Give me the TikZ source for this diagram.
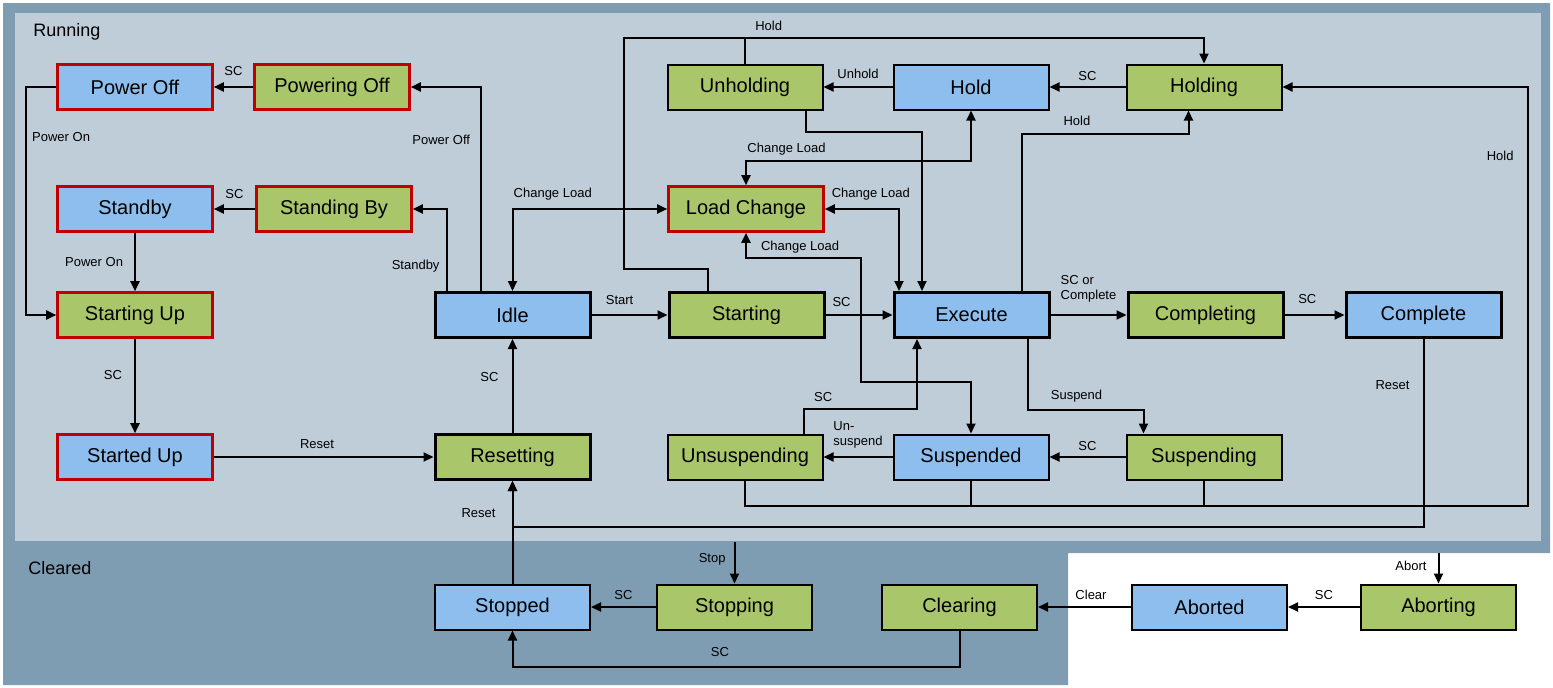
\documentclass[tikz,border=0pt]{standalone}
\usepackage{fontspec}
\setmainfont{Liberation Sans}
\usepackage{xcolor}
\usepackage{tikz}
\usetikzlibrary{arrows.meta, positioning, calc}
\definecolor{lightbg}{RGB}{191,205,217}
\definecolor{darkbg}{RGB}{127,157,178}
\definecolor{stillblue}{RGB}{141,190,238}
\definecolor{actgreen}{RGB}{169,198,106}
\definecolor{darkred}{RGB}{192,0,0}
\tikzset{
    state/.style={
        rectangle,
        draw=black,
        line width=2pt,
        fill=stillblue,
        minimum width=155pt,
        minimum height=45pt,
        inner sep=0pt,
        font=\fontsize{20}{24}\selectfont,
    },
    acting/.style={
        state,
        fill=actgreen,
    },
    extra/.style={
        draw=darkred,
        line width=2.6pt,
    },
    heavy/.style={
        line width=3pt,
    },
    lbl/.style={
        inner sep=1pt,
        font=\fontsize{13}{15}\selectfont,
    },
}

\begin{document}
\begin{tikzpicture}[x=1pt,y=-1pt,node distance=76pt,>={Triangle[length=10pt,width=9pt]},line width=2pt]
      \useasboundingbox (0,0) rectangle (1553,688);

      % regions
      \coordinate (OuterNW) at (3,3);
      \coordinate (OuterSE) at (1550,553);
      \coordinate (ClearedSE) at (1068,685);
      \fill[darkbg] (OuterNW) -| (OuterSE) -| (ClearedSE) -| (OuterNW) -- cycle;
      \node [fill=lightbg, minimum width=1526pt, minimum height=528pt, inner sep=0pt, anchor=north west] (Running) at (14,12) {};
      \node [anchor=west, font=\fontsize{18}{22}\selectfont] (RunningTxt) at (29,32) {Running};
      \node [anchor=west, font=\fontsize{18}{22}\selectfont] (ClearedTxt) at (24,568) {Cleared};

      % states
      \node [state, extra] (PowerOff) at (135,87) {Power Off};
      \node [acting, extra] (PoweringOff) at (332,87) {Powering Off};
      \node [acting] (Unholding) at (745,87) {Unholding};
      \node [state] (Hold) at (971,87) {Hold};
      \node [acting] (Holding) [right=of Hold] {Holding};
      \node [state, extra] (Standby) at (135,209) {Standby};
      \node [acting, extra] (StandingBy) at (334,209) {Standing By};
      \node [acting, extra] (LoadChange) at (746,209) {Load Change};
      \node [acting, extra] (StartingUp) at (135,315) {Starting Up};
      \node [state, heavy] (Idle) at (512.5,315) {Idle};
      \node [acting, heavy] (Starting) [right=of Idle] {Starting};
      \node [state, heavy] (Execute) at (971.5,315) {Execute};
      \node [acting, heavy] (Completing) [right=of Execute] {Completing};
      \node [state, heavy] (Complete) at (1423.5,315) {Complete};
      \node [state, extra] (StartedUp) at (135,457) {Started Up};
      \node [acting, heavy] (Resetting) at (512.5,457) {Resetting};
      \node [acting] (Unsuspending) at (745,457) {Unsuspending};
      \node [state] (Suspended) at (971,457) {Suspended};
      \node [acting] (Suspending) [right=of Suspended] {Suspending};
      \node [state] (Stopped) at (512.5,607) {Stopped};
      \node [acting] (Stopping) at (734.5,607) {Stopping};
      \node [acting] (Clearing) at (959.5,607) {Clearing};
      \node [state] (Aborted) at (1209.5,607) {Aborted};
      \node [acting] (Aborting) at (1438.5,607) {Aborting};

      % power up and down
      \draw[->] (PoweringOff) -- (PowerOff) node[lbl, midway, above=9pt] {SC};
      \draw[->] (StandingBy) -- (Standby) node[lbl, midway, above=8pt] {SC};
      \draw[->] (PowerOff.west) -- ++(-30,0) |- (StartingUp.west) node[lbl, pos=0.11, right=4pt] {Power On};
      \draw[->] (Standby) -- (StartingUp) node[lbl, midway, left=10pt] {Power On};
      \draw[->] (StartingUp) -- (StartedUp) node[lbl, pos=0.38, left=11pt] {SC};
      \draw[->] (StartedUp) -- (Resetting) node[lbl, pos=0.47, above=6pt] {Reset};

      % idle
      \draw[->] (Resetting) -- (Idle) node[lbl, pos=0.6, left=12pt] {SC};
      \draw[->] ([xshift=-31.5pt]Idle.north) |- (PoweringOff) node[lbl, pos=0.37, left=9pt] {Power Off};
      \draw[->] ([xshift=-66pt]Idle.north) |- (StandingBy) node[lbl, pos=0.15, left=5pt] {Standby};
      \draw[<->] (Idle) |- (LoadChange) node[lbl, pos=0.63, above=7pt] {Change Load};
      \draw[->] (Idle) -- (Starting) node[lbl, pos=0.37, above=8pt] {Start};

      % load change
      \draw[<->] (LoadChange.north) -- ++(0,-24) -| (Hold.south) node[lbl, pos=0.09, above=4pt] {Change Load};
      \draw[<->] (LoadChange) -| ([xshift=-72.5pt]Execute.north) node[lbl, pos=0.31, above=7pt] {Change Load};
      \draw[<->] (LoadChange.south) -- ++(0,25) -| ++(115,124) node[lbl, pos=0.235, above=3pt] {Change Load} -| (Suspended.north);

      % starting and holding
      \draw[->] (Starting) -- (Execute) node[lbl, pos=0.24, above=6pt] {SC};
      \draw[->] ([xshift=-39pt]Starting.north) -- ++(0,-22) -| ++(-84,-231) -| (Holding.north) node[lbl, pos=0.125, above=5pt] {Hold};
      \draw (Unholding.north) -- ++(0,-26);
      \draw[->] (Hold) -- (Unholding) node[lbl, midway, above=6pt] {Unhold};
      \draw[->] (Holding) -- (Hold) node[lbl, midway, above=4pt] {SC};
      \draw[->] ([xshift=61pt]Unholding.south) -- ++(0,21) -| ([xshift=-49.5pt]Execute.north);

      % execute
      \draw[->] ([xshift=50.5pt]Execute.north) -- ++(0,-157) -| ([xshift=-15.5pt]Holding.south) node[lbl, pos=0.165, above=6pt] {Hold};
      \draw[->] (Execute) -- (Completing) node[lbl, midway, above=11pt, align=left] {SC or\\Complete};
      \draw[->] (Completing) -- (Complete) node[lbl, pos=0.38, above=9pt] {SC};
      \draw[->] ([xshift=56.5pt]Execute.south) -- ++(0,71) -| ([xshift=-60.5pt]Suspending.north) node[lbl, pos=0.21, above=6pt] {Suspend};
      \draw[->] ([xshift=59pt]Unsuspending.north) -- ++(0,-25) -| ([xshift=-54.5pt]Execute.south) node[lbl, pos=0.085, above=5pt] {SC};

      % suspend
      \draw[->] (Suspending) -- (Suspended) node[lbl, midway, above=4pt] {SC};
      \draw[->] (Suspended) -- (Unsuspending) node[lbl, midway, above=7pt, align=left] {Un-\\suspend};
      \draw[->] (Unsuspending.south) -- ++(0,25) -| ([xshift=245pt]Holding.east) node[lbl, pos=0.918, left=12pt] {Hold} -- (Holding.east);
      \draw (Suspended.south) -- ++(0,25);
      \draw (Suspending.south) -- ++(0,25);

      % reset
      \draw[->] (Complete.south) -- ++(0,188) node[lbl, pos=0.245, left=12pt] {Reset} -| (Resetting.south);
      \draw[->] (Stopped) -- (Resetting) node[lbl, pos=0.69, left=15pt] {Reset};

      % stop, abort, clear
      \draw[->] (Stopping.north |- Running.south) -- (Stopping) node[lbl, pos=0.41, left=7pt] {Stop};
      \draw[->] (Aborting.north |- OuterSE) -- (Aborting) node[lbl, pos=0.42, left=10pt] {Abort};
      \draw[->] (Aborting) -- (Aborted) node[lbl, midway, above=5pt] {SC};
      \draw[->] (Aborted) -- (Clearing) node[lbl, pos=0.43, above=5pt] {Clear};
      \draw[->] (Stopping) -- (Stopped) node[lbl, midway, above=5pt] {SC};
      \draw[->] (Clearing.south) -- ++(0,36) -| (Stopped.south) node[lbl, pos=0.268, above=8pt] {SC};
    \end{tikzpicture}
\end{document}
